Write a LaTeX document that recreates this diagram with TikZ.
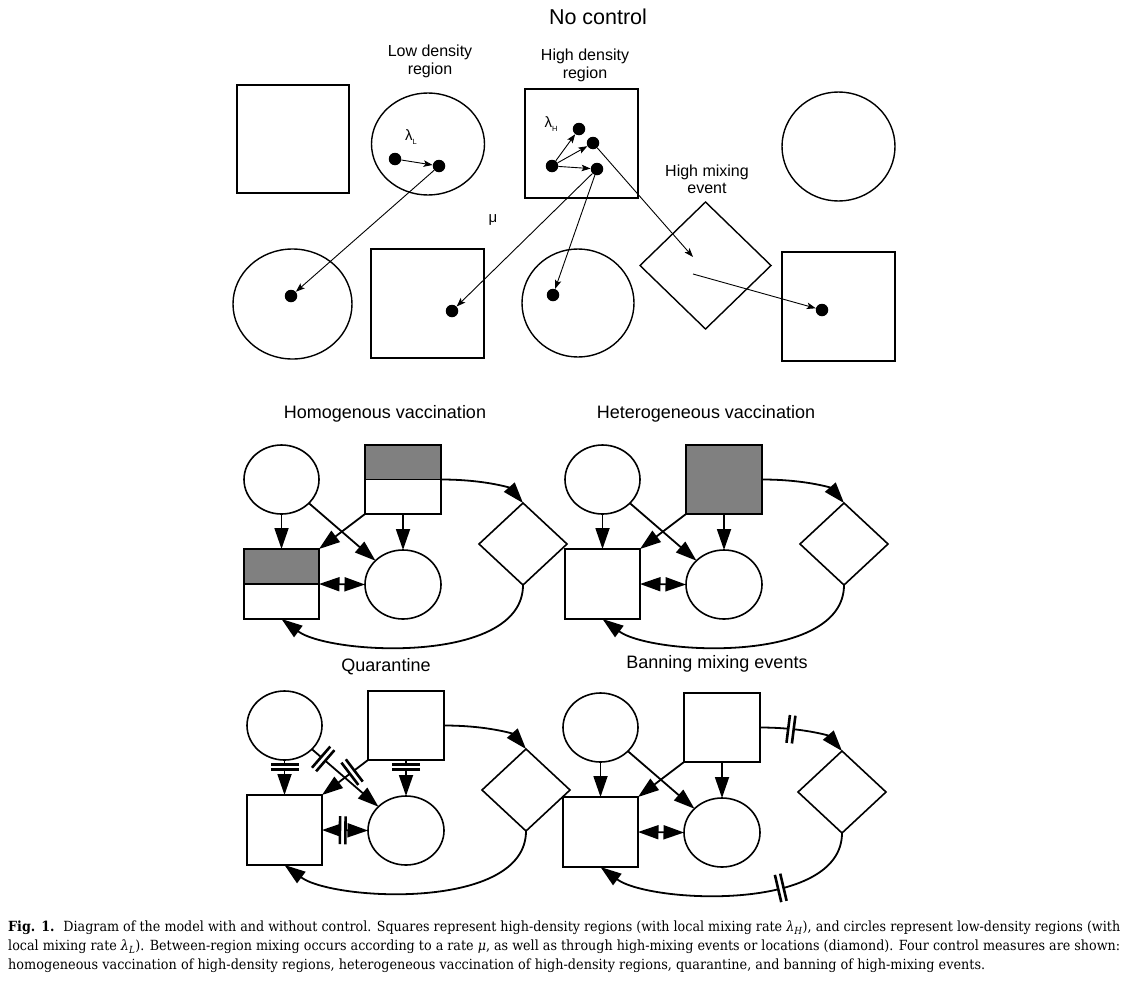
\documentclass[tikz,border=0pt]{standalone}
\usepackage{fontspec}
\usepackage{graphicx}
\setmainfont{Liberation Sans}
\newfontfamily\capfont{DejaVu Serif}
\usetikzlibrary{arrows.meta,shapes.geometric,decorations.markings}
\definecolor{boxgray}{RGB}{128,128,128}
\newcommand\fsz[1]{\fontsize{#1}{#1}\selectfont}
\tikzset{
  tshape/.style={draw,line width=1.4pt,inner sep=0pt,outer sep=0pt},
  pshape/.style={draw,line width=1.6pt,inner sep=0pt,outer sep=0pt,fill=white},
  dotnode/.style={circle,fill=black,inner sep=0pt,minimum size=12.5pt},
  tarr/.style={line width=0.9pt,-{Stealth[length=9pt,width=6.5pt,inset=2pt]}},
  parr/.style={line width=1.8pt,-{Triangle[length=21pt,width=14pt]}},
  pdbl/.style={line width=1.8pt,{Triangle[length=20.5pt,width=14pt]}-{Triangle[length=20.5pt,width=14pt]}},
  splitbox/.style={path picture={
     \fill[boxgray] (path picture bounding box.north west) rectangle (path picture bounding box.east);
     \draw[line width=1.6pt] (path picture bounding box.west) -- (path picture bounding box.east);}},
  graybox/.style={fill=boxgray},
  cut/.style={postaction={decorate,decoration={markings,mark=at position #1 with {
     \fill[white] (-2.75,-13) rectangle (2.75,13);
     \draw[-,line width=2.6pt] (-2.75,-14) -- (-2.75,14) (2.75,-14) -- (2.75,14);}}}},
  lbl/.style={inner sep=0pt,align=center},
}
% panel nodes: #1 prefix, #2 dx, #3 dy, #4 style top square, #5 style lower square
\newcommand\mkpanel[5]{%
\begin{scope}[shift={(#2,#3)}]
  \node[pshape,ellipse,minimum width=75pt,minimum height=69pt] (#1cTL) at (281.5,479.5) {};
  \node[pshape,rectangle,minimum width=76pt,minimum height=69pt,#4] (#1sTop) at (403,479.5) {};
  \node[pshape,rectangle,minimum width=75pt,minimum height=70pt,#5] (#1sBL) at (281.5,584) {};
  \node[pshape,ellipse,minimum width=76pt,minimum height=69pt] (#1cB) at (403,584.5) {};
  \node[pshape,diamond,minimum width=88pt,minimum height=82pt] (#1D) at (523,544) {};
\end{scope}}
% panel connectors: #1 prefix, #2..#8 extra styles
\newcommand\mklinks[8]{%
  \draw[parr,#2] (#1cTL.south) -- (#1sBL.north);
  \draw[parr,#3] (#1cTL) -- (#1cB);
  \draw[parr,#4] (#1sTop.south west) -- (#1sBL.north east);
  \draw[parr,#5] (#1sTop.south) -- (#1cB.north);
  \draw[pdbl,#6] (#1sBL.east) -- (#1cB.west);
  \draw[parr,#7] (#1sTop.east) .. controls +(44,0) and +(-13,-15) .. (#1D.north);
  \draw[parr,#8] (#1D.south) .. controls +(0,80) and +(48.5,36) .. (#1sBL.south);
}
\begin{document}
\begin{tikzpicture}[x=1pt,y=-1pt]
\useasboundingbox (0,0) rectangle (1129,980);

% ---------------- No control ----------------
\node[lbl] (title) at (598,17) {\fsz{21.5}No control};
\node[lbl] (lowlbl) at (430,61) {\fsz{16}Low density\\[2pt]\fsz{16}region};
\node[lbl] (highlbl) at (585,65) {\fsz{16}High density\\[2pt]\fsz{16}region};
\node[lbl] (mixlbl) at (707,179) {\fsz{16}High mixing\\[2pt]\fsz{16}event};

\node[tshape,rectangle,minimum width=112pt,minimum height=108pt] (sq1) at (293,139) {};
\node[tshape,ellipse,minimum width=113pt,minimum height=102pt] (cL) at (428,144) {};
\node[tshape,rectangle,minimum width=113pt,minimum height=109pt] (sH) at (581.5,143.5) {};
\node[tshape,ellipse,minimum width=113pt,minimum height=109pt] (cTR) at (838.5,146.5) {};
\node[tshape,ellipse,minimum width=119pt,minimum height=110pt] (cBL) at (292.5,304) {};
\node[tshape,rectangle,minimum width=113pt,minimum height=109pt] (sB) at (427.5,303.5) {};
\node[tshape,ellipse,minimum width=112pt,minimum height=108pt] (cB3) at (578,303) {};
\node[tshape,diamond,minimum width=131pt,minimum height=127pt] (Dtop) at (705.5,265.5) {};
\node[tshape,rectangle,minimum width=113pt,minimum height=109pt] (sBR) at (838.5,306.5) {};

\node[lbl] (lamL) at (411,137) {\fsz{15}λ\raisebox{-0.45ex}{\fsz{7.5}L}};
\node[lbl] (lamH) at (551,124) {\fsz{15}λ\raisebox{-0.45ex}{\fsz{7.5}H}};
\node[lbl] (mu) at (493,220) {\fsz{15}μ};

\node[dotnode] (dL1) at (395,159) {};
\node[dotnode] (dL2) at (439,166) {};
\node[dotnode] (dH0) at (552,166) {};
\node[dotnode] (dHa) at (579,129) {};
\node[dotnode] (dHb) at (593,143) {};
\node[dotnode] (dHc) at (597,169) {};
\node[dotnode] (dCBL) at (291,296) {};
\node[dotnode] (dSB) at (452,311) {};
\node[dotnode] (dC3) at (553,295) {};
\node[dotnode] (dSBR) at (822,310) {};
\coordinate (mixIn) at (693,257);
\coordinate (mixOut) at (693,274);

\draw[tarr] (dL1) -- (dL2);
\draw[tarr] (dH0) -- (dHa);
\draw[tarr] (dH0) -- (dHb);
\draw[tarr] (dH0) -- (dHc);
\draw[tarr] (dL2) -- (dCBL);
\draw[tarr] (dHc) -- (dSB);
\draw[tarr] (dHc) -- (dC3);
\draw[tarr] (dHb) -- (mixIn);
\draw[tarr] (mixOut) -- (dSBR);

% ---------------- Control panels ----------------
\node[lbl] (t1) at (385,414) {\fsz{18}Homogenous vaccination};
\node[lbl] (t2) at (706,414) {\fsz{18}Heterogeneous vaccination};
\node[lbl] (t3) at (386,667) {\fsz{18}Quarantine};
\node[lbl] (t4) at (717,664) {\fsz{18}Banning mixing events};

\mkpanel{a}{0}{0}{splitbox}{splitbox}
\mkpanel{b}{321}{0}{graybox}{}
\mkpanel{c}{3}{246}{}{}
\mkpanel{d}{319}{248}{}{}

\mklinks{a}{}{}{}{}{}{}{}
\mklinks{b}{}{}{}{}{}{}{}
\mklinks{c}{cut=7pt}{cut=15pt}{cut=20pt}{cut=7pt}{cut=0.45}{}{}
\mklinks{d}{}{}{}{}{}{cut=31pt}{cut=0.325}

% ---------------- Caption ----------------
\node[anchor=west,inner sep=0pt] (cap1) at (8,928) {\resizebox{1112pt}{\height}{\capfont\fsz{14}\textbf{Fig. 1.}\hspace{0.7em}Diagram of the model with and without control. Squares represent high-density regions (with local mixing rate \textit{λ}\textsubscript{\textit{H}}), and circles represent low-density regions (with}};
\node[anchor=west,inner sep=0pt] (cap2) at (8,947) {\resizebox{1112pt}{\height}{\capfont\fsz{14}local mixing rate \textit{λ}\textsubscript{\textit{L}}). Between-region mixing occurs according to a rate \textit{μ}, as well as through high-mixing events or locations (diamond). Four control measures are shown:}};
\node[anchor=west,inner sep=0pt] (cap3) at (8,966) {\resizebox{977pt}{\height}{\capfont\fsz{14}homogeneous vaccination of high-density regions, heterogeneous vaccination of high-density regions, quarantine, and banning of high-mixing events.}};
\end{tikzpicture}
\end{document}
